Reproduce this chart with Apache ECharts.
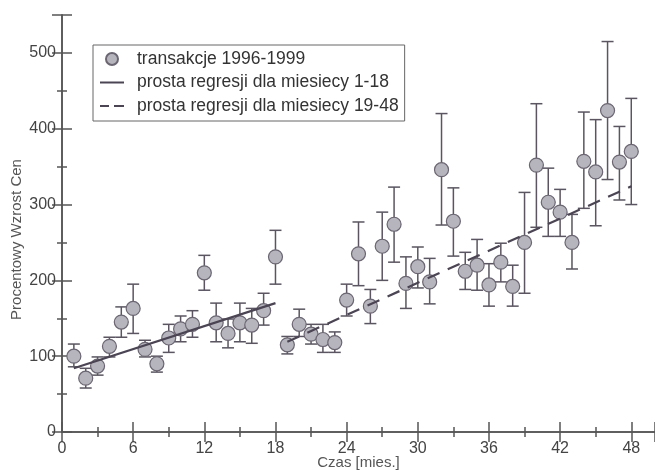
<!DOCTYPE html>
<html>
<head>
<meta charset="utf-8">
<script src="https://cdn.jsdelivr.net/npm/echarts@6/dist/echarts.min.js"></script>
<style>
html, body { margin: 0; padding: 0; background: #fff; }
#chart { width: 655px; height: 470px; }
</style>
</head>
<body>
<div id="chart"></div>
<script>
// miesiace 1..48
var months = [1,2,3,4,5,6,7,8,9,10,11,12,13,14,15,16,17,18,19,20,21,22,23,24,
              25,26,27,28,29,30,31,32,33,34,35,36,37,38,39,40,41,42,43,44,45,46,47,48];
var values = [100,71,87,113,145,163,109,90,124,136,142,210,144,130,144,141,160,231,
              115,142,129,122,118,174,235,166,245,274,196,218,198,346,278,212,220,194,
              224,192,250,352,303,290,250,357,343,424,356,370];
var errLow = [86,58,75,99,125,130,99,79,105,119,125,187,119,111,119,117,141,195,
              103,126,116,105,105,153,193,143,200,224,163,190,169,273,232,188,187,166,
              198,166,183,270,258,258,215,295,272,333,306,300];
var errHigh = [116,84,99,125,165,195,121,100,142,153,160,233,170,149,170,163,183,266,
               126,162,142,142,132,195,277,188,290,323,231,244,229,420,322,237,254,222,
               249,220,316,433,348,320,287,422,412,515,403,440];
// proste regresji
var reg1 = [[1, 84], [18, 170]];
var reg2 = [[19, 119], [48, 324]];

var xTicks = [0, 6, 12, 18, 24, 30, 36, 42, 48];
var yTicks = [0, 100, 200, 300, 400, 500];

var font = "'Liberation Sans', Arial, sans-serif";
var axisColor = '#555';

var points = [], bars = [];
for (var i = 0; i < months.length; i++) {
    points.push([months[i], values[i]]);
    bars.push([months[i], errLow[i], errHigh[i]]);
}

var chart = echarts.init(document.getElementById('chart'));

function xAx(pos, labels) {
    return {
        type: 'value', position: pos, min: 0, max: 50, interval: 6,
        axisLine: { show: true, lineStyle: { color: axisColor, width: 1.5 } },
        axisTick: { show: true, inside: true, length: 10, lineStyle: { color: axisColor, width: 1.5 } },
        minorTick: { show: true, splitNumber: 2, length: 5, lineStyle: { color: axisColor, width: 1.5 } },
        splitLine: { show: false },
        axisLabel: {
            show: labels, color: '#444', fontSize: 16, fontFamily: font, margin: 9,
            formatter: function (v) { return xTicks.indexOf(v) >= 0 ? v : ''; }
        },
        name: labels ? 'Czas [mies.]' : '', nameLocation: 'middle', nameGap: 23, nameMoveOverlap: false,
        nameTextStyle: { color: '#555', fontSize: 15, fontFamily: font }
    };
}
function yAx(pos, labels) {
    return {
        type: 'value', position: pos, min: 0, max: 550, interval: 100,
        axisLine: { show: true, lineStyle: { color: axisColor, width: 1.5 } },
        axisTick: { show: true, inside: true, length: 10, lineStyle: { color: axisColor, width: 1.5 } },
        minorTick: { show: true, splitNumber: 2, length: 5, lineStyle: { color: axisColor, width: 1.5 } },
        splitLine: { show: false },
        axisLabel: {
            show: labels, color: '#444', fontSize: 16, fontFamily: font, margin: 6,
            formatter: function (v) { return yTicks.indexOf(v) >= 0 ? v : ''; }
        },
        name: labels ? 'Procentowy Wzrost Cen' : '', nameLocation: 'middle', nameGap: 38, nameMoveOverlap: false,
        nameTextStyle: { color: '#555', fontSize: 15, fontFamily: font, padding: [0, 32, 0, 0] }
    };
}

chart.setOption({
    animation: false,
    grid: { left: 62, right: 0, top: 15, bottom: 38, outerBoundsMode: 'none' },
    xAxis: [xAx('bottom', true), xAx('top', false)],
    yAxis: [yAx('left', true), yAx('right', false)],
    legend: {
        left: 93, top: 45, orient: 'vertical',
        padding: [5, 6, 6, 7], itemGap: 5.5, itemWidth: 24, itemHeight: 12,
        borderColor: '#666', borderWidth: 1,
        textStyle: { color: '#333', fontSize: 17.5, fontFamily: font, padding: [0, 0, 0, 8] },
        data: [
            { name: 'transakcje 1996-1999', icon: 'circle' },
            { name: 'prosta regresji dla miesiecy 1-18', icon: 'path://M0,0 h24 v2 h-24 Z' },
            { name: 'prosta regresji dla miesiecy 19-48', icon: 'path://M0,0 h9 v2 h-9 Z M14,0 h10 v2 h-10 Z' }
        ]
    },
    series: [
        {
            type: 'custom', name: 'bledy', data: bars, z: 2,
            renderItem: function (params, api) {
                var x = api.value(0);
                var pLo = api.coord([x, api.value(1)]);
                var pHi = api.coord([x, api.value(2)]);
                var hw = 6;
                var st = { stroke: '#5a5560', lineWidth: 1.5 };
                return {
                    type: 'group',
                    children: [
                        { type: 'line', shape: { x1: pHi[0], y1: pHi[1], x2: pLo[0], y2: pLo[1] }, style: st },
                        { type: 'line', shape: { x1: pHi[0] - hw, y1: pHi[1], x2: pHi[0] + hw, y2: pHi[1] }, style: st },
                        { type: 'line', shape: { x1: pLo[0] - hw, y1: pLo[1], x2: pLo[0] + hw, y2: pLo[1] }, style: st }
                    ]
                };
            }
        },
        {
            type: 'scatter', name: 'transakcje 1996-1999', data: points, z: 3,
            symbol: 'circle', symbolSize: 14,
            itemStyle: { color: '#b6b5bd', borderColor: '#6b6672', borderWidth: 1.2, opacity: 1 }
        },
        {
            type: 'line', name: 'prosta regresji dla miesiecy 1-18', data: reg1, z: 4,
            showSymbol: false, symbol: 'none',
            lineStyle: { color: '#4b4453', width: 2.2 },
            itemStyle: { color: '#4b4453' }
        },
        {
            type: 'line', name: 'prosta regresji dla miesiecy 19-48', data: reg2, z: 4,
            showSymbol: false, symbol: 'none',
            lineStyle: { color: '#4b4453', width: 2.2, type: [13, 9] },
            itemStyle: { color: '#4b4453' }
        }
    ]
});
</script>
</body>
</html>
